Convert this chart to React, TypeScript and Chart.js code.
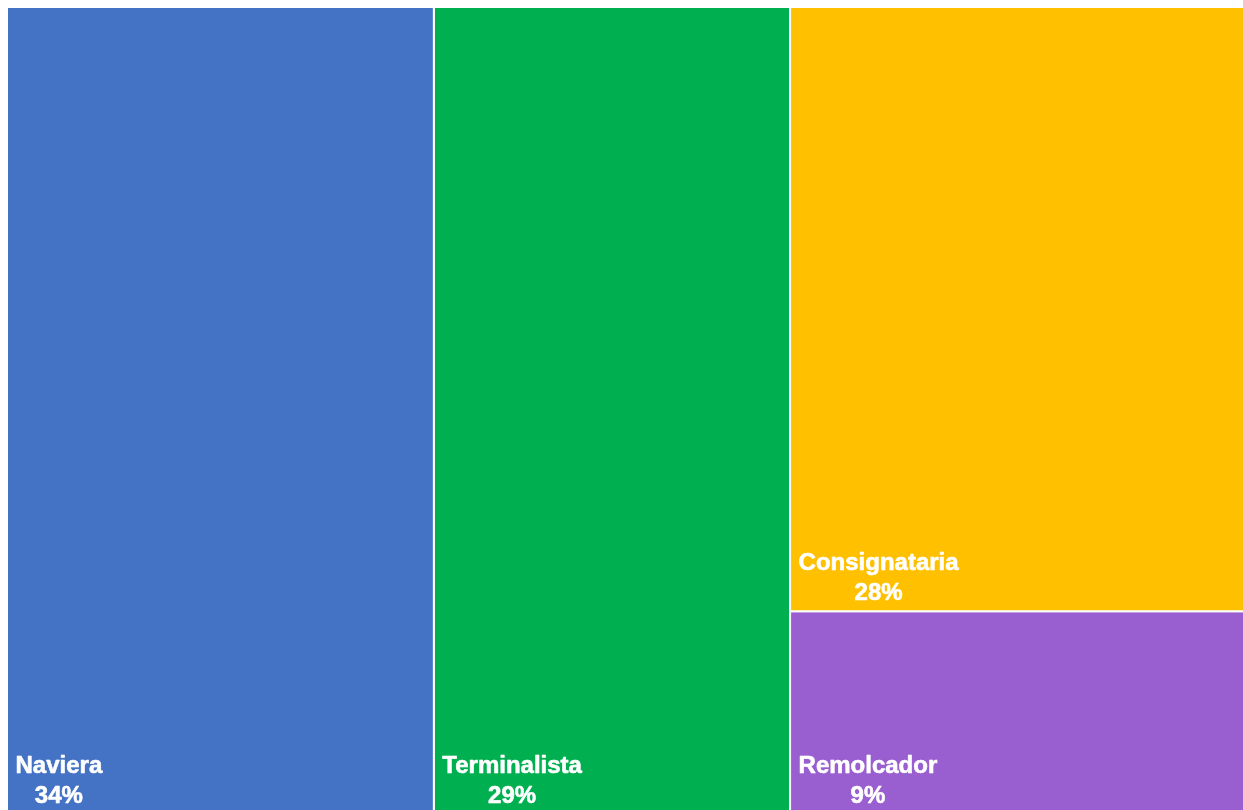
import React, { useEffect, useRef } from "react";
import { Chart, registerables } from "chart.js";

Chart.register(...registerables);

const categories = ["Naviera", "Terminalista", "Consignataria", "Remolcador"];
const values = [34.45, 28.75, 27.55, 9.25];
const colors = ["#4472C4", "#00B050", "#FFC000", "#995ECF"];
// treemap structure: which categories share a column (top to bottom)
const columnGroups = [[0], [1], [2, 3]];

type Rect = { x0: number; x1: number; y0: number; y1: number };

function computeLayout(): Rect[] {
  const total = values.reduce((a, b) => a + b, 0);
  const rects: Rect[] = [];
  let x = 0;
  for (const group of columnGroups) {
    const colTotal = group.reduce((a, i) => a + values[i], 0);
    const w = (colTotal / total) * 100;
    let y = 0;
    for (const i of group) {
      const h = (values[i] / colTotal) * 100;
      rects[i] = { x0: x, x1: x + w, y0: y, y1: y + h };
      y += h;
    }
    x += w;
  }
  return rects;
}

export default function App() {
  const canvasRef = useRef<HTMLCanvasElement | null>(null);

  useEffect(() => {
    document.documentElement.style.overflow = "hidden";
    document.body.style.overflow = "hidden";
    const rects = computeLayout();
    const total = values.reduce((a, b) => a + b, 0);

    const labelPlugin = {
      id: "treemapLabels",
      afterDatasetsDraw(chart: any) {
        const ctx = chart.ctx as CanvasRenderingContext2D;
        const xs = chart.scales.x;
        const ys = chart.scales.y;
        ctx.save();
        ctx.fillStyle = "#FFFFFF";
        ctx.strokeStyle = "#FFFFFF";
        ctx.lineWidth = 0.6;
        ctx.lineJoin = "round";
        ctx.font = 'bold 24px "Liberation Sans", Arial, sans-serif';
        ctx.textBaseline = "alphabetic";
        rects.forEach((r, i) => {
          const left = xs.getPixelForValue(r.x0);
          const bottom = ys.getPixelForValue(r.y1);
          const name = categories[i];
          const pct = Math.round((values[i] / total) * 100) + "%";
          const nameW = ctx.measureText(name).width;
          const nx = left + 8.5;
          const valueBase = bottom - 11.5;
          const nameBase = valueBase - 30;
          ctx.textAlign = "left";
          ctx.fillText(name, nx, nameBase);
          ctx.strokeText(name, nx, nameBase);
          ctx.textAlign = "center";
          ctx.fillText(pct, nx + nameW / 2, valueBase);
          ctx.strokeText(pct, nx + nameW / 2, valueBase);
        });
        ctx.restore();
      },
    };

    const datasets = rects.map((r, i) => ({
      label: categories[i],
      data: [
        { x: r.x0, y: r.y0 },
        { x: r.x1, y: r.y0 },
        { x: r.x1, y: r.y1 },
        { x: r.x0, y: r.y1 },
        { x: r.x0, y: r.y0 },
      ],
      showLine: true,
      fill: "shape",
      backgroundColor: colors[i],
      borderColor: "#FFFFFF",
      borderWidth: 2,
      borderJoinStyle: "miter",
      pointRadius: 0,
      pointHoverRadius: 0,
      tension: 0,
    }));

    const chart = new Chart(canvasRef.current as HTMLCanvasElement, {
      type: "scatter",
      data: { datasets: datasets as any },
      options: {
        animation: false,
        responsive: true,
        maintainAspectRatio: false,
        layout: { padding: 0 },
        plugins: {
          legend: { display: false },
          tooltip: { enabled: false },
          title: { display: false },
        },
        scales: {
          x: { type: "linear", min: 0, max: 100, display: false },
          y: { type: "linear", min: 0, max: 100, reverse: true, display: false },
        },
      },
      plugins: [labelPlugin],
    });
    return () => chart.destroy();
  }, []);

  return (
    <div style={{ position: "fixed", left: 7, top: 7, width: 1239, height: 807 }}>
      <canvas ref={canvasRef} />
    </div>
  );
}
